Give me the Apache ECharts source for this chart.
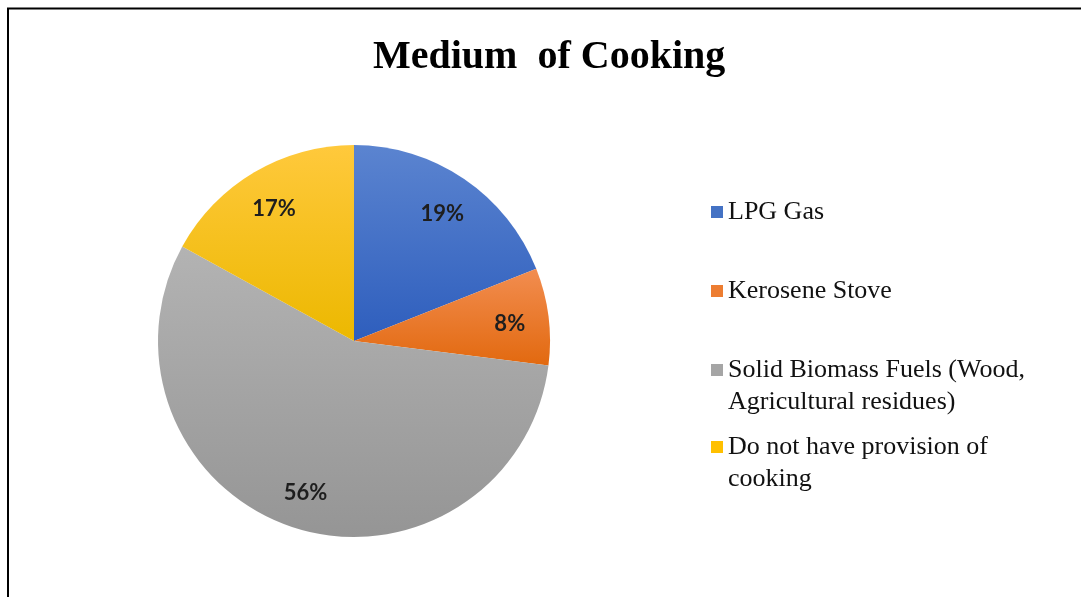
<!DOCTYPE html>
<html>
<head>
<meta charset="utf-8">
<script src="https://cdn.jsdelivr.net/npm/echarts@6/dist/echarts.min.js"></script>
<style>
  html, body { margin: 0; padding: 0; background: #fff; }
  #chart { width: 1081px; height: 597px; }
</style>
</head>
<body>
<div id="chart"></div>
<script>
// data
const categories = ['LPG Gas', 'Kerosene Stove', 'Solid Biomass Fuels (Wood, Agricultural residues)', 'Do not have provision of cooking'];
const legendLabels = ['LPG Gas', 'Kerosene Stove', 'Solid Biomass Fuels (Wood,\nAgricultural residues)', 'Do not have provision of\ncooking'];
const shares = [19, 8, 56, 17];

// slice colours (top, bottom of gradient) + flat legend colours
const topColors = ['#5b84d0', '#f28d50', '#b3b3b3', '#ffc93c'];
const bottomColors = ['#2e5ebd', '#e2690f', '#959595', '#ecb800'];
const markerColors = ['#4472c4', '#ed7d31', '#a5a5a5', '#ffc000'];

const chart = echarts.init(document.getElementById('chart'));

const pieData = categories.map((name, i) => ({
    name: name,
    value: shares[i],
    itemStyle: {
        color: {
            type: 'linear',
            x: 0, y: 0, x2: 0, y2: 1,
            colorStops: [
                { offset: 0, color: topColors[i] },
                { offset: 1, color: bottomColors[i] }
            ]
        }
    }
}));

// one legend per entry so the rows sit where Excel put them;
// two-line entries get a tall icon box so the square lines up with the first line
const legendTops = [196, 275, 354, 431];
const legends = categories.map((name, i) => {
    const twoLines = legendLabels[i].indexOf('\n') >= 0;
    return {
        orient: 'vertical',
        left: 711,
        top: legendTops[i],
        padding: 0,
        selectedMode: false,
        itemWidth: 12,
        itemHeight: twoLines ? 44 : 12,
        icon: twoLines ? 'path://M0,0L12,0L12,12L0,12Z M0,44L0,44' : 'rect',
        data: [{ name: name, itemStyle: { color: markerColors[i] } }],
        formatter: () => legendLabels[i],
        textStyle: {
            fontFamily: 'Liberation Serif',
            fontSize: 26,
            lineHeight: 32,
            color: '#111'
        }
    };
});

const option = {
    animation: false,
    backgroundColor: '#fff',
    title: {
        text: 'Medium  of Cooking',
        left: 368,
        top: 33,
        textStyle: {
            fontFamily: 'Liberation Serif',
            fontWeight: 'bold',
            fontSize: 40,
            color: '#000'
        }
    },
    legend: legends,
    graphic: [{
        type: 'polyline',
        shape: { points: [[8, 597], [8, 8.5], [1081, 8.5]] },
        style: { stroke: '#000', lineWidth: 2, fill: null },
        silent: true
    }],
    series: [
        {
            type: 'pie',
            center: [354, 341],
            radius: [0, 196],
            startAngle: 90,
            clockwise: true,
            silent: true,
            label: { show: false },
            labelLine: { show: false },
            itemStyle: { borderWidth: 0 },
            emphasis: { disabled: true },
            data: pieData
        },
        {
            // transparent ring only used to place the labels further out
            type: 'pie',
            center: [354, 344],
            radius: [112, 196],
            startAngle: 90,
            clockwise: true,
            silent: true,
            itemStyle: { color: 'rgba(0,0,0,0)', borderWidth: 0 },
            emphasis: { disabled: true },
            label: {
                show: true,
                position: 'inside',
                formatter: '{c}%',
                fontFamily: 'Lato',
                fontWeight: 'bold',
                fontSize: 22,
                color: '#1e1e1e'
            },
            labelLine: { show: false },
            data: categories.map((name, i) => ({ name: name, value: shares[i] }))
        }
    ]
};

chart.setOption(option);
window.addEventListener('resize', () => chart.resize());
</script>
</body>
</html>
